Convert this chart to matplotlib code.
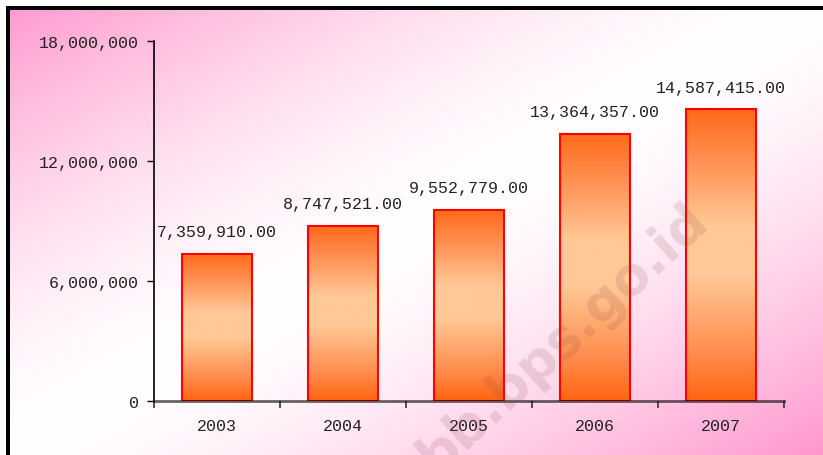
import numpy as np
import matplotlib
matplotlib.use("Agg")
import matplotlib.pyplot as plt
from matplotlib.colors import LinearSegmentedColormap
from matplotlib.patches import Rectangle

years = ["2003", "2004", "2005", "2006", "2007"]
values = [7359910.00, 8747521.00, 9552779.00, 13364357.00, 14587415.00]
y_ticks = [0, 6000000, 12000000, 18000000]
y_tick_labels = ["0", "6,000,000", "12,000,000", "18,000,000"]

W, H = 823, 456
mono = "Liberation Mono"

fig = plt.figure(figsize=(W / 100, H / 100), dpi=100)

# background: pink -> white -> pink along the diagonal
bg = fig.add_axes([0, 0, 1, 1], zorder=-1)
bg.set_xlim(0, W)
bg.set_ylim(H, 0)
bg.axis("off")
xx, yy = np.meshgrid(np.arange(W), np.arange(H))
t = (xx / W + yy / H) / 2
d = np.clip(np.abs(t - 0.5) * 2, 0, 1) ** 1.5
pink = np.array([255, 150, 205]) / 255
white = np.array([1.0, 1.0, 1.0])
img = white + (pink - white) * d[..., None]
bg.imshow(img, extent=(0, W, H, 0), aspect="auto", interpolation="bilinear")
bg.add_patch(Rectangle((0, 0), W, 7, color="white", lw=0))
bg.add_patch(Rectangle((0, 0), 6, H, color="white", lw=0))
bg.add_patch(Rectangle((6, 7), W, 4, color="black", lw=0))
bg.add_patch(Rectangle((6, 7), 4, H, color="black", lw=0))

# main chart
ax = fig.add_axes([154 / W, 1 - 402 / H, (784 - 154) / W, (402 - 42) / H])
ax.patch.set_alpha(0)

x = np.arange(len(years))
bars = ax.bar(x, values, width=0.56, facecolor="none", edgecolor="#ff0000",
              linewidth=1.5, zorder=2)

cmap = LinearSegmentedColormap.from_list(
    "bar", [(0, "#ff6510"), (0.15, "#ff8a4a"), (0.43, "#ffc896"),
            (0.6, "#ffc896"), (0.85, "#ff8a4a"), (1, "#ff6a1a")])
grad = np.linspace(0, 1, 256).reshape(-1, 1)
for b in bars:
    x0, w, h = b.get_x(), b.get_width(), b.get_height()
    im = ax.imshow(grad, cmap=cmap, extent=(x0, x0 + w, 0, h), origin="lower",
                   aspect="auto", zorder=1.5)
    im.set_clip_path(b)

for xi, v in zip(x, values):
    ax.annotate(f"{v:,.2f}", (xi, v), xytext=(0, 16), textcoords="offset points",
                ha="center", va="center", fontsize=12, family=mono, color="#222222")

ax.set_xlim(-0.5, len(years) - 0.5)
ax.set_ylim(0, 18000000)

ax.set_yticks(y_ticks)
ax.set_yticklabels(y_tick_labels, family=mono, fontsize=12, color="#222222")
ax.tick_params(axis="y", length=5, width=1, color="black", pad=6)

ax.set_xticks(np.arange(len(years) + 1) - 0.5)
ax.set_xticklabels([])
ax.set_xticks(x, minor=True)
ax.set_xticklabels(years, minor=True, family=mono, fontsize=12, color="#222222")
ax.tick_params(axis="x", which="major", length=5, width=1.2, color="#333333")
ax.tick_params(axis="x", which="minor", length=0, pad=12)

for s in ["top", "right"]:
    ax.spines[s].set_visible(False)
ax.spines["left"].set_color("black")
ax.spines["left"].set_linewidth(1.2)
ax.spines["bottom"].set_color((0, 0, 0, 0.6))
ax.spines["bottom"].set_linewidth(2)

# watermark
fig.text(700 / W, 1 - 212 / H, "bb.bps.go.id", fontsize=38, fontweight="bold",
         family="DejaVu Sans", color="#804040", alpha=0.15, rotation=42.5,
         rotation_mode="anchor", ha="right", va="center", zorder=10)

fig.savefig("out.png", dpi=100)
